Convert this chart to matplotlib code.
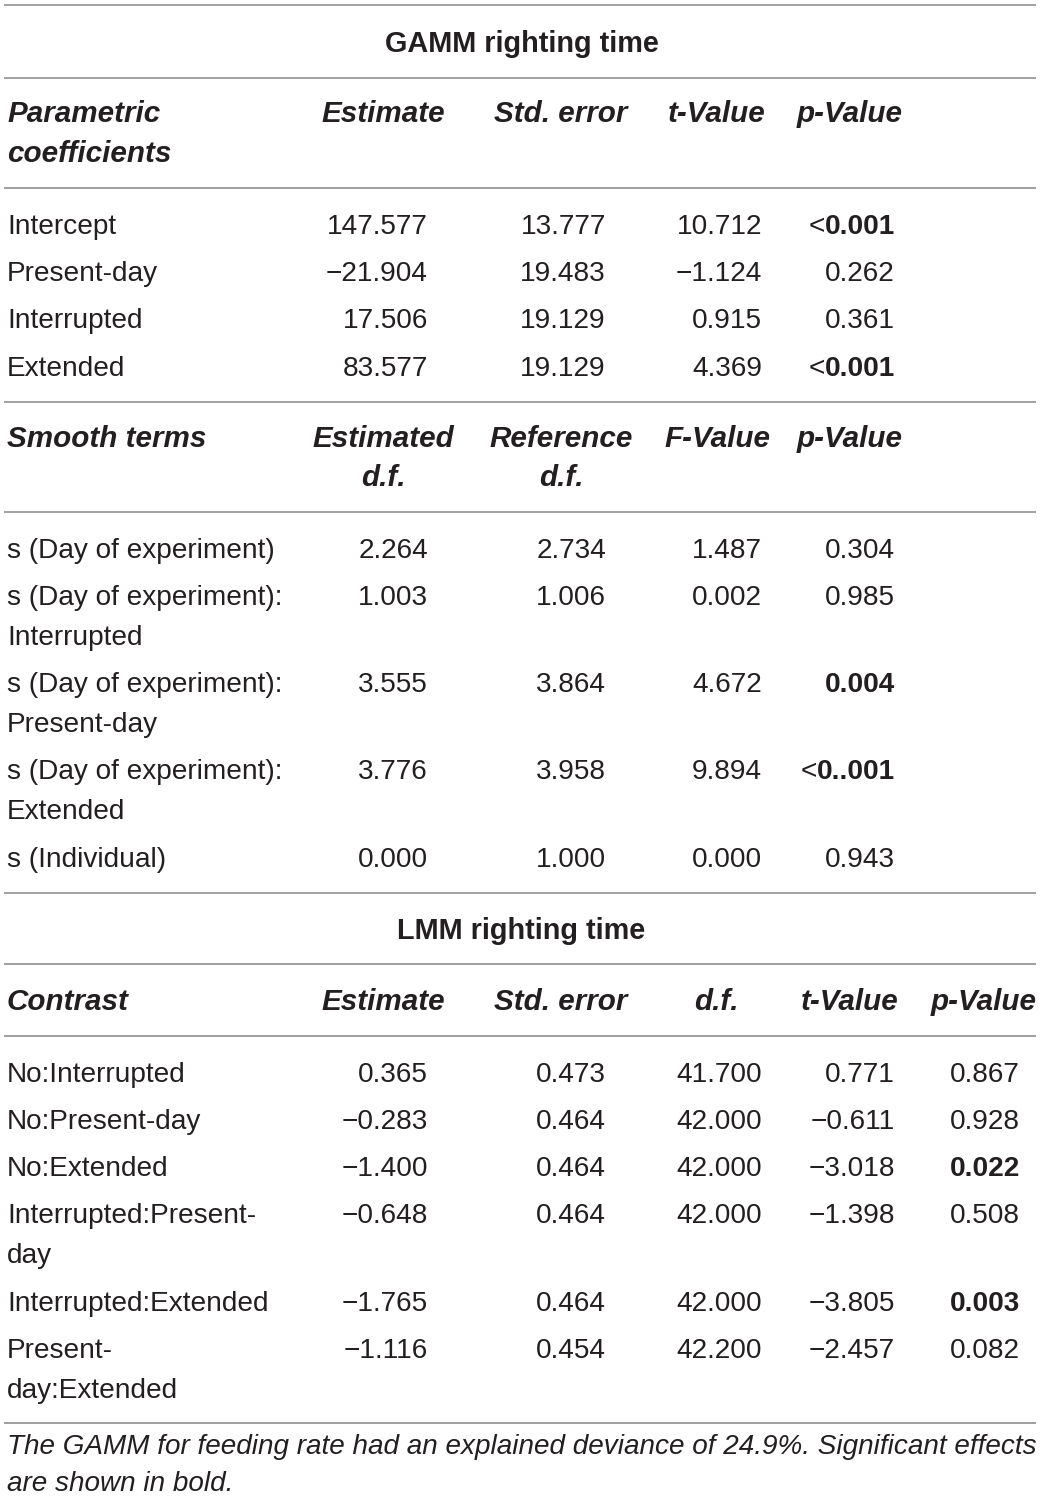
import matplotlib
matplotlib.use("Agg")
import matplotlib.pyplot as plt

FONT = "Liberation Sans"
TXT = "#231f20"
RULE = "#a0a0a0"
FS = 20.2
FS_BOLD = 21.3
FS_TITLE = 20.8
FS_NOTE = 20.1

# ---------------- data ----------------
gamm_title = "GAMM righting time"
param_header = ["Parametric\ncoefficients", "Estimate", "Std. error", "t-Value", "p-Value"]
param_terms = ["Intercept", "Present-day", "Interrupted", "Extended"]
param_estimate = [147.577, -21.904, 17.506, 83.577]
param_se = [13.777, 19.483, 19.129, 19.129]
param_t = [10.712, -1.124, 0.915, 4.369]
param_p = ["<0.001", "0.262", "0.361", "<0.001"]
param_sig = [True, False, False, True]

smooth_header = ["Smooth terms", "Estimated\nd.f.", "Reference\nd.f.", "F-Value", "p-Value"]
smooth_terms = ["s (Day of experiment)", "s (Day of experiment):\nInterrupted",
                "s (Day of experiment):\nPresent-day", "s (Day of experiment):\nExtended",
                "s (Individual)"]
smooth_edf = [2.264, 1.003, 3.555, 3.776, 0.000]
smooth_refdf = [2.734, 1.006, 3.864, 3.958, 1.000]
smooth_f = [1.487, 0.002, 4.672, 9.894, 0.000]
smooth_p = ["0.304", "0.985", "0.004", "<0..001", "0.943"]
smooth_sig = [False, False, True, True, False]

lmm_title = "LMM righting time"
lmm_header = ["Contrast", "Estimate", "Std. error", "d.f.", "t-Value", "p-Value"]
lmm_contrasts = ["No:Interrupted", "No:Present-day", "No:Extended",
                 "Interrupted:Present-\nday", "Interrupted:Extended", "Present-\nday:Extended"]
lmm_estimate = [0.365, -0.283, -1.400, -0.648, -1.765, -1.116]
lmm_se = [0.473, 0.464, 0.464, 0.464, 0.464, 0.454]
lmm_df = [41.700, 42.000, 42.000, 42.000, 42.000, 42.200]
lmm_t = [0.771, -0.611, -3.018, -1.398, -3.805, -2.457]
lmm_p = ["0.867", "0.928", "0.022", "0.508", "0.003", "0.082"]
lmm_sig = [False, False, True, False, True, False]

footnote = ("The GAMM for feeding rate had an explained deviance of 24.9%. Significant effects\n"
            "are shown in bold.")

# ---------------- layout ----------------
W, H = 1043, 1500
fig = plt.figure(figsize=(W / 100, H / 100), dpi=100)
ax = fig.add_axes([0, 0, 1, 1])
ax.set_xlim(0, W)
ax.set_ylim(H, 0)
ax.axis("off")
renderer = fig.canvas.get_renderer()

LEFT = 7
X0, X1 = 4, 1036
ROW = 47.3
LINE = 39.8
TOP_GAP = 46
BOT_GAP = 25.5

g_centers = [383, 561, 717, 850]
g_rights = [428, 606, 762, 895]
l_centers = [383, 561, 716, 850, 984]
l_rights = [428, 606, 762, 895, 1020]


def fmt(v):
    s = f"{v:.3f}"
    return s.replace("-", "\u2212")


def rule(y):
    ax.plot([X0, X1], [y, y], color=RULE, lw=1.4, solid_capstyle="butt")


def txt(x, y, s, ha="left", weight="normal", style="normal", size=None):
    if size is None:
        size = FS_BOLD if weight == "bold" else FS
    return ax.text(x, y, s, ha=ha, va="baseline", fontsize=size, family=FONT,
                   fontweight=weight, fontstyle=style, color=TXT)


def pval(x, y, s, sig):
    if not sig:
        txt(x, y, s, ha="right")
        return
    if s.startswith("<"):
        t = txt(x, y, s[1:], ha="right", weight="bold", size=FS)
        w = t.get_window_extent(renderer).width
        txt(x - w, y, "<", ha="right")
    else:
        txt(x, y, s, ha="right", weight="bold", size=FS)


def multiline(x, y, s, ha="left", weight="normal", style="normal"):
    for i, part in enumerate(s.split("\n")):
        txt(x, y + i * LINE, part, ha=ha, weight=weight, style=style)
    return len(s.split("\n"))


def header(y, labels, centers):
    n = multiline(LEFT, y, labels[0], weight="bold", style="italic")
    for lab, cx in zip(labels[1:], centers):
        n = max(n, multiline(cx, y, lab, ha="center", weight="bold", style="italic"))
    return y + (n - 1) * LINE


def body(y, labels, cols, pvals, sigs, rights):
    last = y
    for i, lab in enumerate(labels):
        n = multiline(LEFT, y, lab)
        for col, rx in zip(cols, rights[:-1]):
            txt(rx, y, fmt(col[i]), ha="right")
        pval(rights[-1], y, pvals[i], sigs[i])
        last = y + (n - 1) * LINE
        y = last + ROW
    return last


y = 5
rule(y)
b = y + TOP_GAP + 1
txt(W / 2, b, gamm_title, ha="center", weight="bold", size=FS_TITLE)
y = b + BOT_GAP
rule(y)
b = header(y + TOP_GAP - 1, param_header, g_centers)
y = b + BOT_GAP
rule(y)
b = body(y + TOP_GAP, param_terms, [param_estimate, param_se, param_t], param_p, param_sig, g_rights)
y = b + BOT_GAP + 0.5
rule(y)
b = header(y + TOP_GAP - 1, smooth_header, g_centers)
y = b + BOT_GAP
rule(y)
b = body(y + TOP_GAP, smooth_terms, [smooth_edf, smooth_refdf, smooth_f], smooth_p, smooth_sig, g_rights)
y = b + BOT_GAP + 0.5
rule(y)
b = y + TOP_GAP
txt(W / 2, b, lmm_title, ha="center", weight="bold", size=FS_TITLE)
y = b + BOT_GAP
rule(y)
b = header(y + TOP_GAP, lmm_header, l_centers)
y = b + BOT_GAP
rule(y)
b = body(y + TOP_GAP, lmm_contrasts, [lmm_estimate, lmm_se, lmm_df, lmm_t], lmm_p, lmm_sig, l_rights)
y = b + BOT_GAP
rule(y)
for i, part in enumerate(footnote.split("\n")):
    txt(LEFT, y + 31 + i * 37, part, style="italic", size=FS_NOTE)

fig.savefig("out.png", dpi=100, facecolor="white")
